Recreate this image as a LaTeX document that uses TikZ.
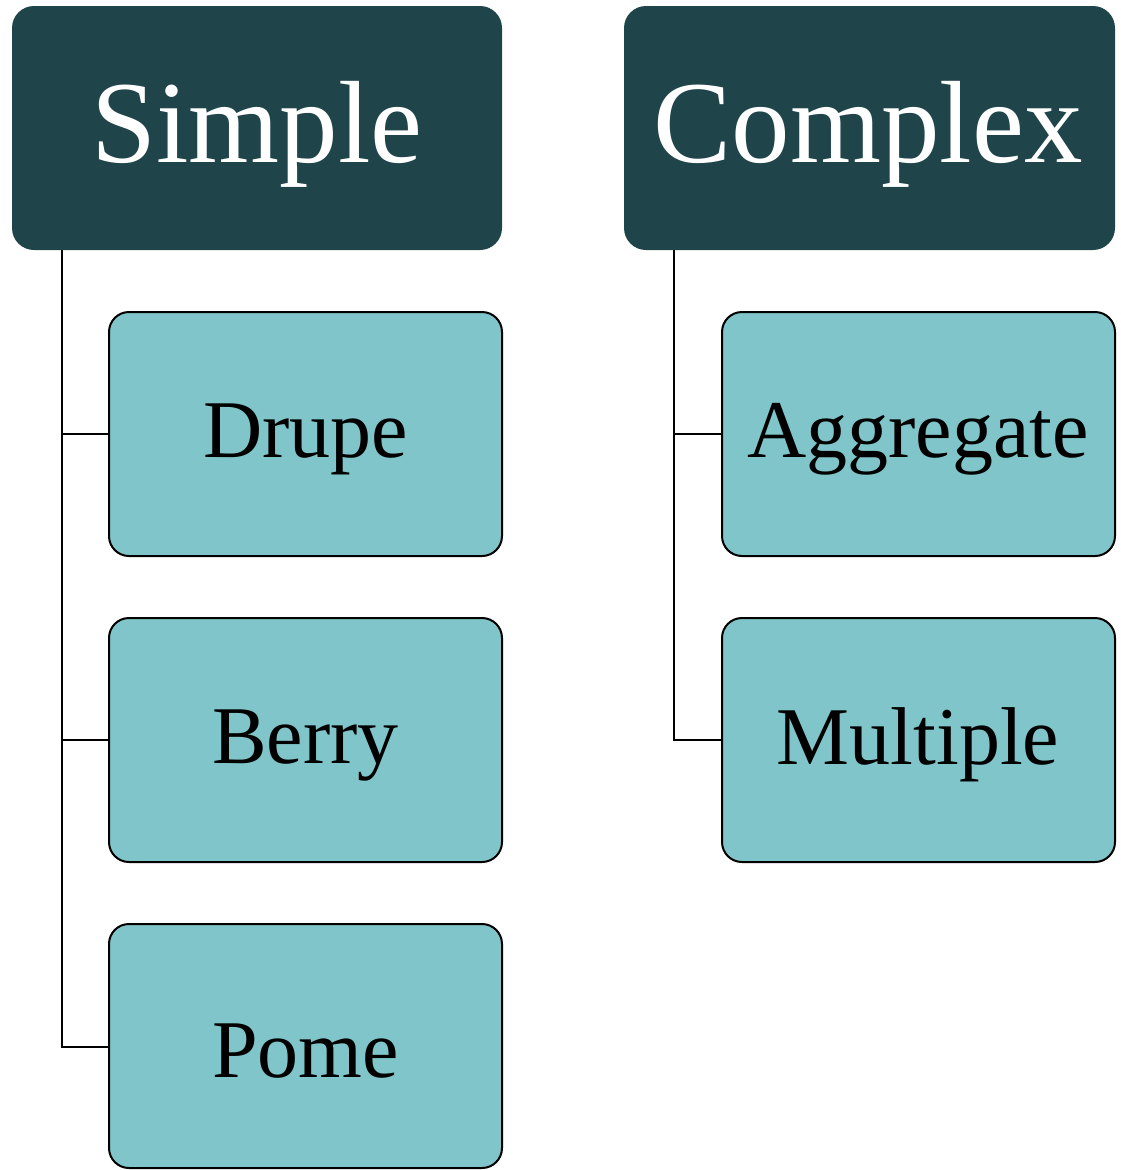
\documentclass[tikz,border=0pt]{standalone}
\usepackage{fontspec}
\setmainfont{Liberation Serif}
\definecolor{headfill}{HTML}{1F4449}
\definecolor{childfill}{HTML}{80C5C9}
\begin{document}
\begin{tikzpicture}[x=1pt,y=-1pt,
  head/.style={fill=headfill,rounded corners=22pt},
  child/.style={fill=childfill,draw=black,line width=2pt,rounded corners=20pt},
  headtext/.style={text=white,font=\fontsize{117}{120}\selectfont},
  childtext/.style={font=\fontsize{82}{84}\selectfont},
  conn/.style={draw=black,line width=2pt}]
\useasboundingbox (0,0) rectangle (1121,1170);
% headers
\path[head] (12,6) rectangle (502,250);
\node[headtext] (simple) at (257,134) {Simple};
\path[head] (624,6) rectangle (1115,250);
\node[headtext] (complex) at (868,134) {Complex};
% connectors
\coordinate (sb) at (62,250);
\coordinate (cb) at (674,250);
\draw[conn] (sb) |- (109,434) (sb) |- (109,740) (sb) |- (109,1047);
\draw[conn] (cb) |- (722,434) (cb) |- (722,740);
% children
\path[child] (109,312) rectangle (502,556);
\node[childtext] (drupe) at (305.5,439) {Drupe};
\path[child] (109,618) rectangle (502,862);
\node[childtext] (berry) at (305.5,745) {Berry};
\path[child] (109,924) rectangle (502,1168);
\node[childtext] (pome) at (305.5,1051) {Pome};
\path[child] (722,312) rectangle (1115,556);
\node[childtext] (aggregate) at (918,439) {Aggregate};
\path[child] (722,618) rectangle (1115,862);
\node[childtext] (multiple) at (918,745) {Multiple};
\end{tikzpicture}
\end{document}
